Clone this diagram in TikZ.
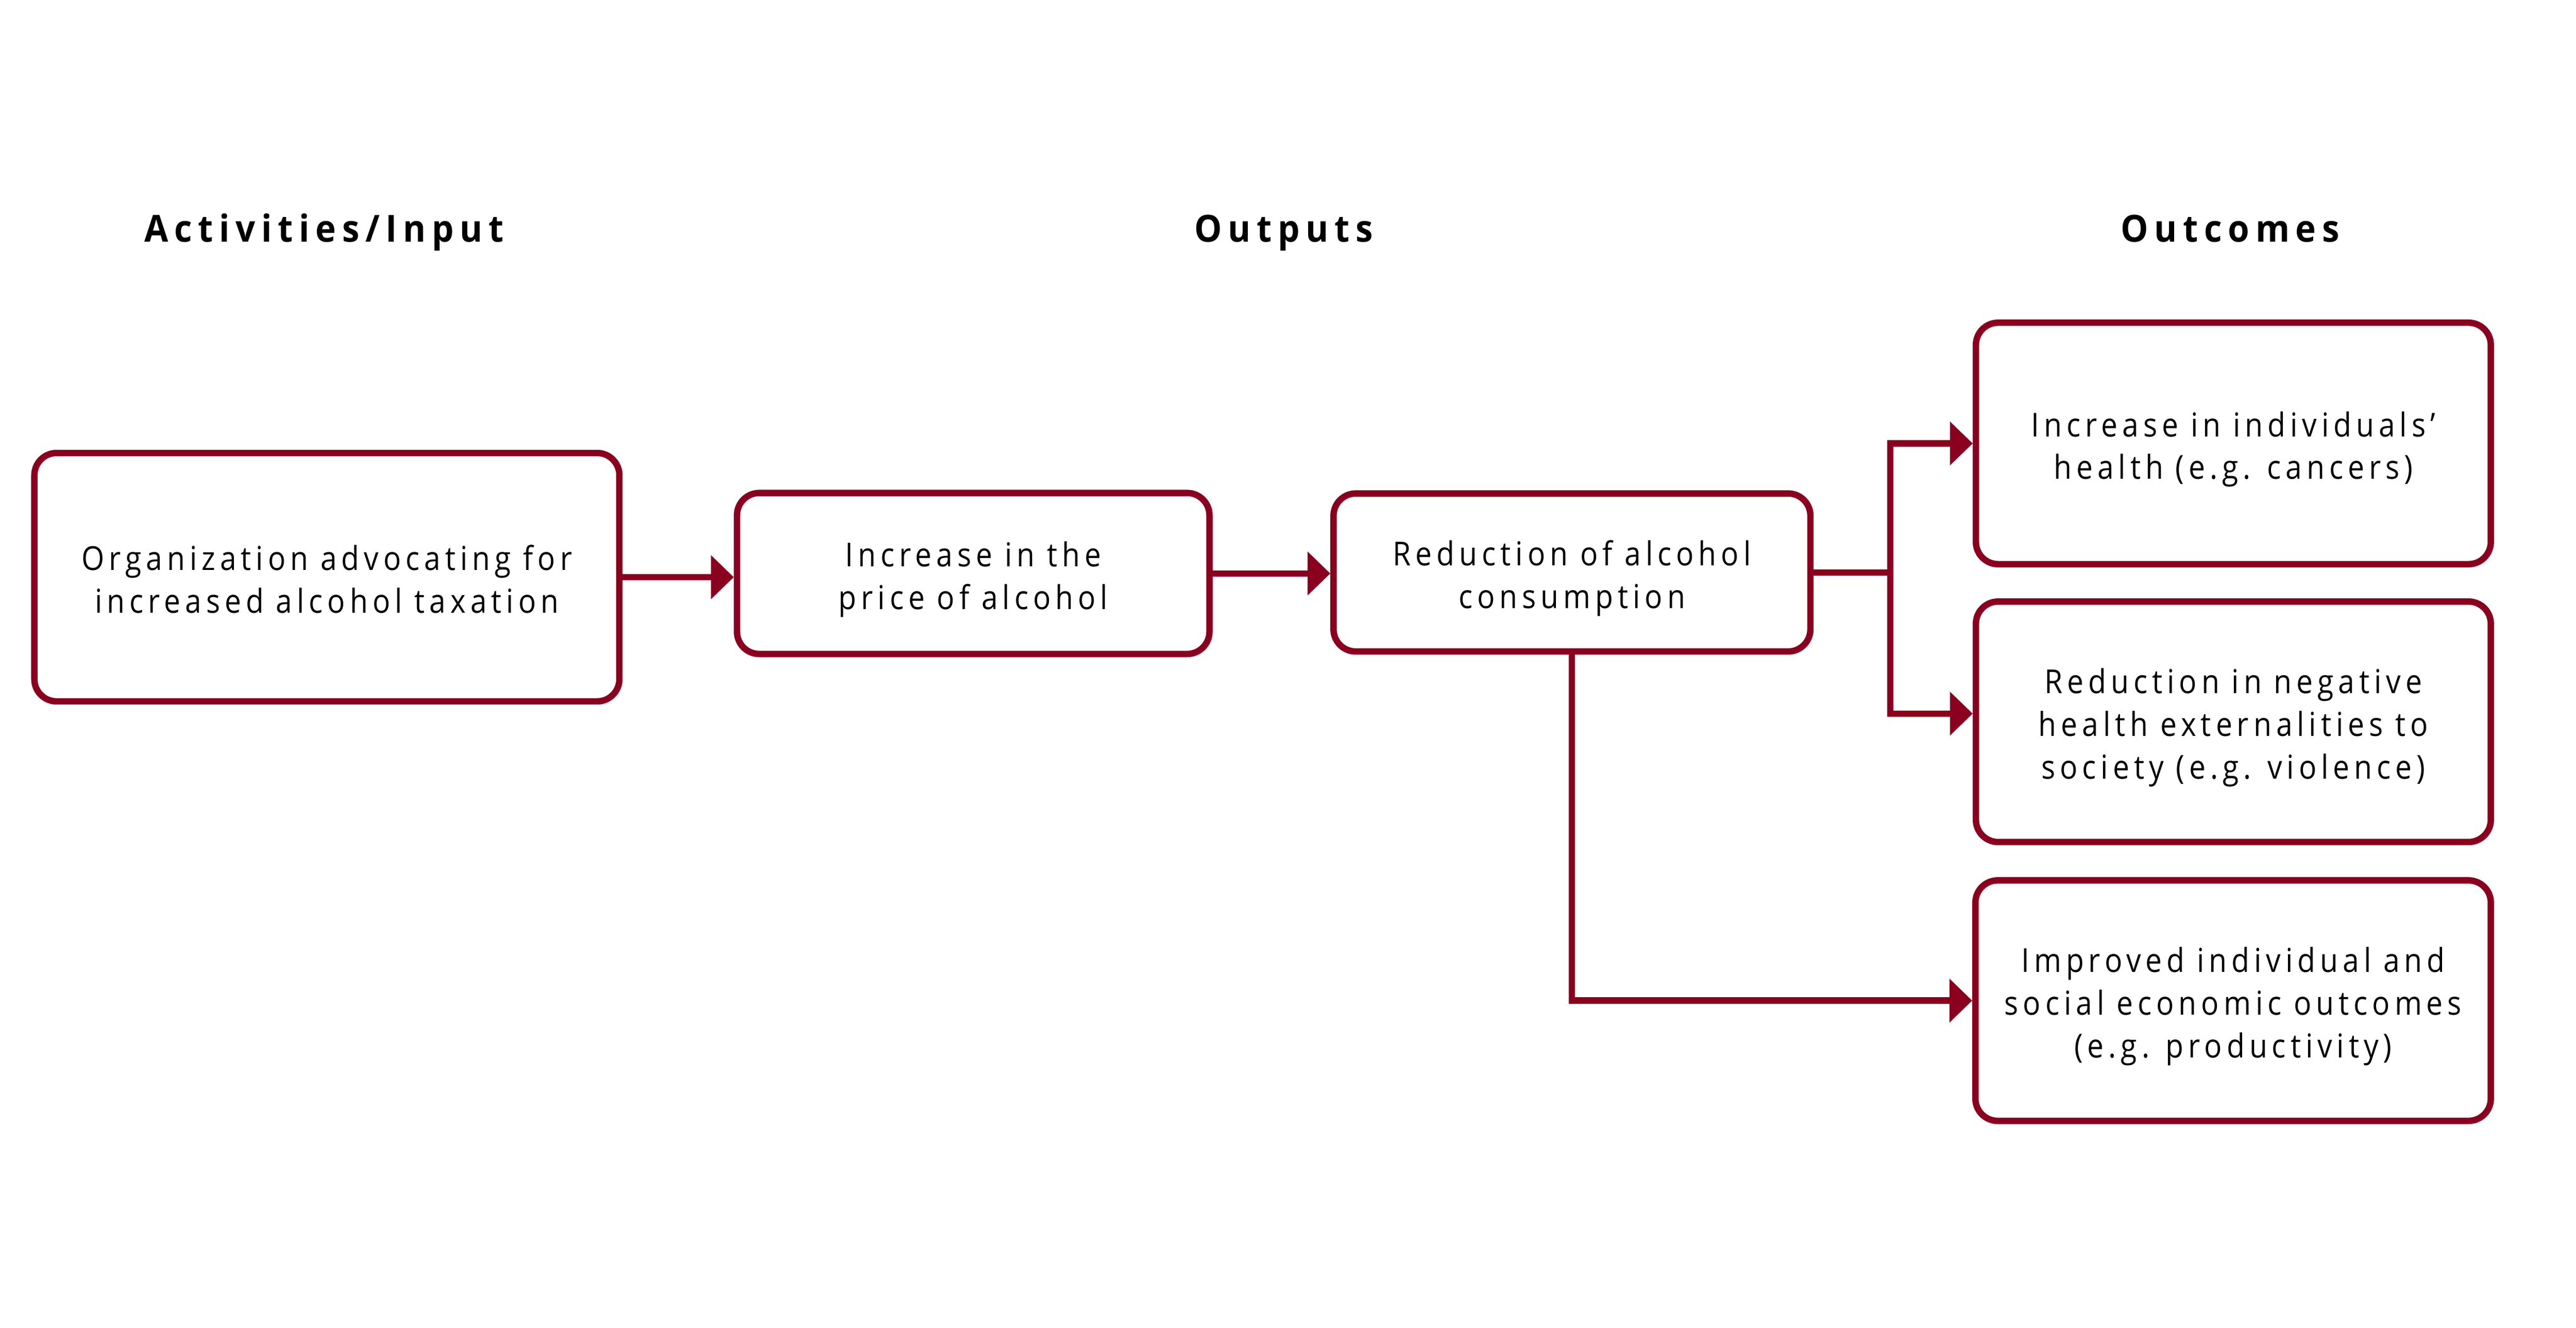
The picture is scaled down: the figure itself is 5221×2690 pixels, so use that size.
\documentclass[tikz,border=0pt]{standalone}
\usepackage{fontspec}
\setmainfont{Open Sans}[FakeStretch=0.89, LetterSpace=14, BoldFeatures={FakeStretch=0.93, LetterSpace=16}]
\usetikzlibrary{arrows.meta,calc}
\definecolor{wine}{RGB}{139,0,30}
\newcommand\btxt[1]{\raisebox{-0.12cm}[\height][\depth]{\begin{tabular}{@{}c@{}}#1\end{tabular}}}
\tikzset{
  box/.style={draw=wine, line width=0.13cm, rounded corners=0.45cm,
    font=\fontsize{19pt}{24.6pt}\selectfont, inner sep=0pt},
  conn/.style={draw=wine, line width=0.13cm},
  arr/.style={conn, -{Triangle[length=0.46cm, width=0.86cm]}},
  head/.style={font=\fontsize{21.5pt}{26pt}\selectfont\bfseries, anchor=base},
}
\begin{document}
\begin{tikzpicture}[x=0.01cm, y=-0.01cm]
\useasboundingbox (0,0) rectangle (5221,2690);
% headers
\node[head] (h1) at (657,490) {Activities/Input};
\node[head] (h2) at (2602,490) {Outputs};
\node[head] (h3) at (4520,490) {Outcomes};
% boxes
\node[box, minimum width=11.85cm, minimum height=5.03cm] (b1) at (662.5,1169.5)
  {\btxt{Organization advocating for\\increased alcohol taxation}};
\node[box, minimum width=9.57cm, minimum height=3.26cm] (b2) at (1972.5,1162)
  {\btxt{Increase in the\\price of alcohol}};
\node[box, minimum width=9.66cm, minimum height=3.20cm] (b3) at (3186,1160)
  {\btxt{Reduction of alcohol\\consumption}};
\node[box, minimum width=10.43cm, minimum height=4.89cm] (b4) at (4526.5,898.5)
  {\btxt{Increase in individuals’\\health (e.g. cancers)}};
\node[box, minimum width=10.43cm, minimum height=4.87cm] (b5) at (4526.5,1462.5)
  {\btxt{Reduction in negative\\health externalities to\\society (e.g. violence)}};
\node[box, minimum width=10.44cm, minimum height=4.87cm] (b6) at (4526,2027.5)
  {\btxt{Improved individual and\\social economic outcomes\\(e.g. productivity)}};
% connectors
\coordinate (j) at (3831,1160);
\coordinate (b5in) at (b5.west |- 0,1446);
\draw[arr] (b1.east) -- (b1.east -| b2.west);
\draw[arr] (b2.east) -- (b2.east -| b3.west);
\draw[conn] (b3.east) -- (j);
\draw[arr] (j) |- (b4.west);
\draw[arr] (j) |- (b5in);
\draw[arr] (b3.south) |- (b6.west);
\end{tikzpicture}
\end{document}
